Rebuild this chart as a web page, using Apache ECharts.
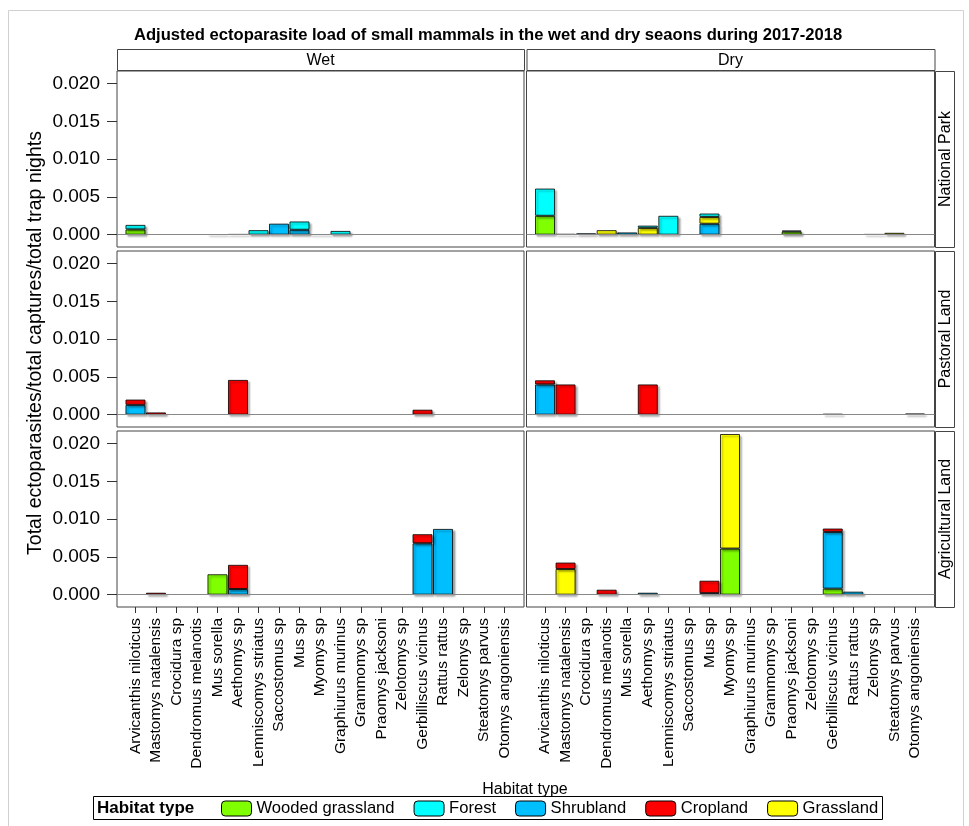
<!DOCTYPE html>
<html>
<head>
<meta charset="utf-8">
<title>Adjusted ectoparasite load</title>
<script src="https://cdn.jsdelivr.net/npm/echarts@6/dist/echarts.min.js"></script>
<style>
  html, body { margin: 0; padding: 0; background: #fff; }
  #chart { width: 969px; height: 826px; }
</style>
</head>
<body>
<div id="chart"></div>
<script>
// ---- data -------------------------------------------------------------
const speciesNames = [
  'Arvicanthis niloticus', 'Mastomys natalensis', 'Crocidura sp', 'Dendromus melanotis',
  'Mus sorella', 'Aethomys sp', 'Lemniscomys striatus', 'Saccostomus sp', 'Mus sp',
  'Myomys sp', 'Graphiurus murinus', 'Grammomys sp', 'Praomys jacksoni', 'Zelotomys sp',
  'Gerbilliscus vicinus', 'Rattus rattus', 'Zelomys sp', 'Steatomys parvus', 'Otomys angoniensis'
];
const seasonNames = ['Wet', 'Dry'];
const landNames = ['National Park', 'Pastoral Land', 'Agricultural Land'];
const habitatNames = ['Wooded grassland', 'Forest', 'Shrubland', 'Cropland', 'Grassland'];
const yTickValues = [0, 0.005, 0.010, 0.015, 0.020];

const N = null;
// National Park, wet season
const parkWetWooded    = [0.0007,N,N,N,0.00004,0.00006,N,N,N,N,N,N,N,N,N,N,N,N,N];
const parkWetForest    = [0.0006,N,N,N,N,N,0.0006,N,0.0011,N,0.0005,N,N,N,N,N,N,N,N];
const parkWetShrub     = [N,N,N,N,N,N,N,0.00146,0.00065,0.00004,N,N,N,N,N,N,N,N,N];
const parkWetCrop      = [N,N,N,N,N,N,N,N,N,N,N,N,N,N,N,N,N,N,N];
const parkWetGrass     = [N,N,N,N,N,N,N,N,N,N,N,N,N,N,N,N,N,N,N];
// National Park, dry season
const parkDryWooded    = [0.0025,N,N,N,N,N,N,N,N,N,N,N,0.0004,N,N,N,0.00006,N,N];
const parkDryForest    = [0.0036,N,N,N,N,0.0003,0.0025,N,0.00045,N,N,N,0.00015,N,N,N,N,N,N];
const parkDryShrub     = [N,N,0.00018,N,0.0003,N,N,N,0.00145,N,N,N,N,N,N,N,N,N,N];
const parkDryCrop      = [N,N,N,N,N,N,N,N,N,N,N,N,N,N,N,N,N,N,N];
const parkDryGrass     = [N,0.00008,N,0.0006,N,0.0009,N,N,0.0009,N,N,N,N,N,N,N,N,0.00025,N];
// Pastoral Land, wet season
const pastWetWooded    = [N,N,N,N,N,N,N,N,N,N,N,N,N,N,N,N,N,N,N];
const pastWetForest    = [N,N,N,N,N,N,N,N,N,N,N,N,N,N,N,N,N,N,N];
const pastWetShrub     = [0.0013,N,N,N,N,N,N,N,N,N,N,N,N,N,N,N,N,N,N];
const pastWetCrop      = [0.0007,0.0003,N,N,N,0.0046,N,N,N,N,N,N,N,N,0.00066,N,N,N,N];
const pastWetGrass     = [N,N,N,N,N,N,N,N,N,N,N,N,N,N,N,N,N,N,N];
// Pastoral Land, dry season
const pastDryWooded    = [N,N,N,N,N,N,N,N,N,N,N,N,N,N,N,N,N,N,N];
const pastDryForest    = [N,N,N,N,N,N,N,N,N,N,N,N,N,N,N,N,N,N,N];
const pastDryShrub     = [0.004,N,N,N,N,N,N,N,N,N,N,N,N,N,N,N,N,N,N];
const pastDryCrop      = [0.00055,0.004,N,N,N,0.004,N,N,N,N,N,N,N,N,0.0001,N,N,N,0.00015];
const pastDryGrass     = [N,N,N,N,N,N,N,N,N,N,N,N,N,N,N,N,N,N,N];
// Agricultural Land, wet season
const agriWetWooded    = [N,N,N,N,0.0027,N,N,N,N,N,N,N,N,N,N,N,N,N,N];
const agriWetForest    = [N,N,N,N,N,N,N,N,N,N,N,N,N,N,N,N,N,N,N];
const agriWetShrub     = [N,N,N,N,N,0.00075,N,N,N,N,N,N,N,N,0.0068,0.0087,N,N,N];
const agriWetCrop      = [N,0.00026,N,N,N,0.0032,N,N,N,N,N,N,N,N,0.0012,N,N,N,N];
const agriWetGrass     = [N,N,N,N,N,N,N,N,N,N,N,N,N,N,N,N,N,N,N];
// Agricultural Land, dry season
const agriDryWooded    = [N,N,N,N,N,N,N,N,N,0.0061,N,N,N,N,0.0008,N,N,N,N];
const agriDryForest    = [N,N,N,N,N,N,N,N,N,N,N,N,N,N,N,N,N,N,N];
const agriDryShrub     = [N,N,N,N,N,0.00026,N,N,0.0002,N,N,N,N,N,0.0075,0.0004,N,N,N];
const agriDryCrop      = [N,0.00085,N,0.00066,N,N,N,N,0.00165,N,N,N,N,N,0.00045,N,N,N,N];
const agriDryGrass     = [N,0.0034,N,N,N,N,N,N,N,0.01515,N,N,N,N,N,N,N,N,N];

// panel table: rows = land use, columns = season
const panels = [
  { row: 0, col: 0, values: [parkWetWooded, parkWetForest, parkWetShrub, parkWetCrop, parkWetGrass] },
  { row: 0, col: 1, values: [parkDryWooded, parkDryForest, parkDryShrub, parkDryCrop, parkDryGrass] },
  { row: 1, col: 0, values: [pastWetWooded, pastWetForest, pastWetShrub, pastWetCrop, pastWetGrass] },
  { row: 1, col: 1, values: [pastDryWooded, pastDryForest, pastDryShrub, pastDryCrop, pastDryGrass] },
  { row: 2, col: 0, values: [agriWetWooded, agriWetForest, agriWetShrub, agriWetCrop, agriWetGrass] },
  { row: 2, col: 1, values: [agriDryWooded, agriDryForest, agriDryShrub, agriDryCrop, agriDryGrass] }
];

// ---- styling / layout ---------------------------------------------------
const FONT = '"Liberation Sans", Arial, sans-serif';
const habitatColors = {
  'Wooded grassland': '#80ff00',
  'Forest': '#00ffff',
  'Shrubland': '#00bfff',
  'Cropland': '#ff0000',
  'Grassland': '#ffff00'
};
// segments are stacked bottom-to-top in this order
const stackOrder = ['Wooded grassland', 'Shrubland', 'Grassland', 'Forest', 'Cropland'];

const colLeft = [117, 526.5];
const colWidth = [407, 408];
const rowTop = [71, 251, 431];
const rowHeight = 176;
const xTickValues = speciesNames.map((_, i) => i);

const grids = [], xAxes = [], yAxes = [], series = [];

panels.forEach((p, g) => {
  const isBottom = p.row === 2;
  const isLeft = p.col === 0;
  grids.push({
    left: colLeft[p.col], top: rowTop[p.row],
    width: colWidth[p.col], height: rowHeight,
    show: true, borderColor: '#444', borderWidth: 1, containLabel: false
  });
  xAxes.push({
    gridIndex: g, type: 'value', min: -0.9, max: 18.95, position: 'bottom',
    splitLine: { show: false }, axisLine: { show: false, onZero: false },
    axisTick: { show: isBottom, length: 6, customValues: xTickValues, lineStyle: { color: '#333' } },
    axisLabel: {
      show: isBottom, customValues: xTickValues, rotate: 90, margin: 11,
      fontSize: 15.5, fontFamily: FONT, color: '#000',
      formatter: v => speciesNames[Math.round(v)] || ''
    }
  });
  yAxes.push({
    gridIndex: g, type: 'value', min: -0.00163, max: 0.02165, position: 'left',
    splitLine: { show: false }, axisLine: { show: false, onZero: false },
    axisTick: { show: isLeft, length: 10, customValues: yTickValues, lineStyle: { color: '#333' } },
    axisLabel: {
      show: isLeft, customValues: yTickValues, margin: 17,
      fontSize: 19, fontFamily: FONT, color: '#000',
      formatter: v => v.toFixed(3)
    }
  });
  stackOrder.forEach((hab, k) => {
    const vals = p.values[habitatNames.indexOf(hab)];
    const s = {
      type: 'bar', name: hab, xAxisIndex: g, yAxisIndex: g,
      stack: 'panel' + g, barWidth: 20,
      // value first so the stack accumulates along y
      data: vals.map((v, i) => [v, i]),
      encode: { x: 1, y: 0 },
      itemStyle: {
        color: habitatColors[hab], borderColor: 'rgba(0,0,0,0.8)', borderWidth: 1,
        shadowColor: 'rgba(0,0,0,0.35)', shadowBlur: 2, shadowOffsetX: 2, shadowOffsetY: 2
      },
      emphasis: { disabled: true },
      animation: false
    };
    if (k === 0) {
      s.markLine = {
        silent: true, symbol: 'none', label: { show: false },
        lineStyle: { color: '#888', width: 1, type: 'solid' },
        data: [{ yAxis: 0 }]
      };
    }
    series.push(s);
  });
});

// strip headers and frame decorations
const graphics = [
  { type: 'rect', shape: { x: 8.5, y: 10.5, width: 955, height: 830 },
    style: { fill: 'none', stroke: '#d0d0d0', lineWidth: 1 }, z: 0 }
];
seasonNames.forEach((name, c) => {
  graphics.push({ type: 'rect', shape: { x: colLeft[c] + 0.5, y: 49.5, width: colWidth[c], height: 21 },
    style: { fill: '#fff', stroke: '#444', lineWidth: 1 } });
  graphics.push({ type: 'text', style: { x: colLeft[c] + colWidth[c] / 2, y: 60.5, text: name,
    textAlign: 'center', textVerticalAlign: 'middle', font: '16px ' + FONT, fill: '#000' } });
});
landNames.forEach((name, r) => {
  graphics.push({ type: 'rect', shape: { x: 935.5, y: rowTop[r] + 0.5, width: 19, height: rowHeight },
    style: { fill: '#fff', stroke: '#444', lineWidth: 1 } });
  graphics.push({ type: 'text', x: 945.5, y: rowTop[r] + rowHeight / 2, rotation: Math.PI / 2,
    style: { x: 0, y: 0, text: name, textAlign: 'center', textVerticalAlign: 'middle',
      font: '16px ' + FONT, fill: '#000' } });
});
graphics.push({ type: 'text', x: 36, y: 343, rotation: Math.PI / 2,
  style: { x: 0, y: 0, text: 'Total ectoparasites/total captures/total trap nights',
    textAlign: 'center', textVerticalAlign: 'middle', font: '19.5px ' + FONT, fill: '#000' } });
graphics.push({ type: 'text', style: { x: 525, y: 790, text: 'Habitat type',
  textAlign: 'center', textVerticalAlign: 'middle', font: '16px ' + FONT, fill: '#000' } });
graphics.push({ type: 'rect', shape: { x: 93.5, y: 796.5, width: 789, height: 23 },
  style: { fill: 'none', stroke: '#000', lineWidth: 1 } });
graphics.push({ type: 'text', style: { x: 97, y: 808.5, text: 'Habitat type',
  textAlign: 'left', textVerticalAlign: 'middle', font: 'bold 17px ' + FONT, fill: '#000' } });

const chart = echarts.init(document.getElementById('chart'), null, { renderer: 'canvas' });
chart.setOption({
  backgroundColor: '#fff',
  animation: false,
  title: {
    text: 'Adjusted ectoparasite load of small mammals in the wet and dry seaons during 2017-2018',
    left: 129, top: 22,
    textStyle: { fontSize: 16.6, fontWeight: 'bold', fontFamily: FONT, color: '#000' }
  },
  legend: {
    data: habitatNames, left: 221, top: 800, padding: 0,
    itemWidth: 30, itemHeight: 15, itemGap: 19, selectedMode: false,
    textStyle: { fontSize: 16.6, fontFamily: FONT, color: '#000' },
    itemStyle: { borderColor: '#000', borderWidth: 1, shadowBlur: 0, shadowOffsetX: 0, shadowOffsetY: 0 }
  },
  grid: grids,
  xAxis: xAxes,
  yAxis: yAxes,
  series: series,
  graphic: graphics
});
</script>
</body>
</html>
